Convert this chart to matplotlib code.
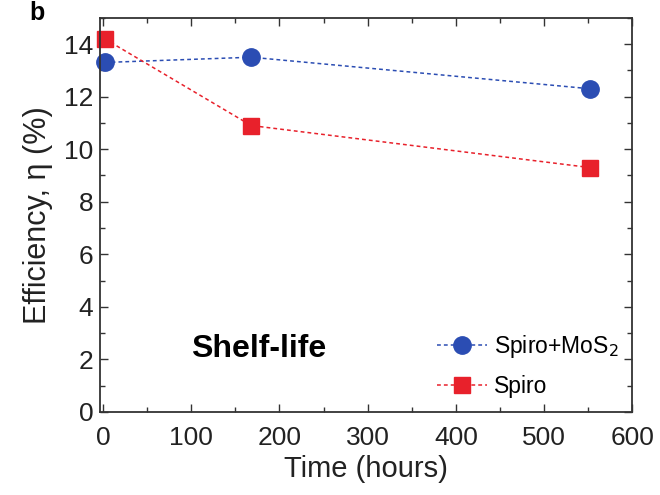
import matplotlib
matplotlib.use('Agg')
import matplotlib.pyplot as plt
from matplotlib.ticker import MultipleLocator

plt.rcParams['font.family'] = ['Liberation Sans', 'DejaVu Sans']

# data
time_h = [2, 168, 552]
eff_mos2 = [13.3, 13.5, 12.3]
eff_spiro = [14.2, 10.9, 9.3]

blue = '#2b4db3'
red = '#e8212b'

fig = plt.figure(figsize=(6.6, 4.95), dpi=100)
ax = fig.add_axes([0.152, 0.168, 0.806, 0.796])

ax.plot(time_h, eff_mos2, color=blue, ls=(0, (2.5, 2)), lw=1.1,
        marker='o', ms=12.5, mec=blue, mfc=blue, label='Spiro+MoS$_2$', clip_on=False)
ax.plot(time_h, eff_spiro, color=red, ls=(0, (2.5, 2)), lw=1.1,
        marker='s', ms=11, mec=red, mfc=red, label='Spiro', clip_on=False)

ax.set_xlim(-3, 600)
ax.set_ylim(0, 15)
ax.xaxis.set_major_locator(MultipleLocator(100))
ax.xaxis.set_minor_locator(MultipleLocator(50))
ax.yaxis.set_major_locator(MultipleLocator(2))
ax.yaxis.set_minor_locator(MultipleLocator(1))
ax.tick_params(which='both', direction='in', top=True, right=True,
               labelsize=19, color='#333333', labelcolor='#222222')
ax.tick_params(which='major', length=6, width=1)
ax.tick_params(which='minor', length=3.5, width=1)
ax.tick_params(axis='x', which='major', pad=10)
ax.tick_params(axis='y', which='major', pad=5)
for s in ax.spines.values():
    s.set_linewidth(1.3)
    s.set_color('#333333')

ax.set_xlabel('Time (hours)', fontsize=21, labelpad=4, color='#222222')
ax.set_ylabel('Efficiency, η (%)', fontsize=22, labelpad=8, color='#222222')

ax.text(100, 2.4, 'Shelf-life', fontsize=23, fontweight='bold', va='center')

ax.legend(loc='lower right', frameon=False, fontsize=16.5, handlelength=2.2,
          handletextpad=0.3, labelspacing=0.65, borderaxespad=0.2,
          bbox_to_anchor=(1.0, 0.0))

# panel letter (cut off at the top in the source)
fig.text(0.045, 0.997, 'b', fontsize=18, fontweight='bold', va='top', ha='left')

fig.savefig('out.png', dpi=100)
